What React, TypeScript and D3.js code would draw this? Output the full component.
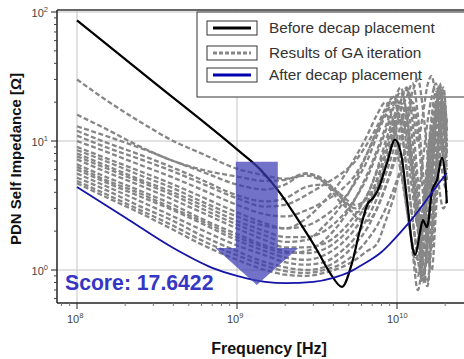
import React from 'react';
import * as d3 from 'd3';

const W = 464;
const H = 359;

// Frequency grid shared by the GA-iteration curves (Hz)
const FREQ_GRAY = [1e8, 1.5e8, 2.5e8, 4e8, 6e8, 1e9, 1.5e9, 2e9, 2.7e9, 3.5e9, 4.5e9, 5.5e9, 6.5e9, 7.5e9, 8.5e9, 9.5e9, 1.05e10, 1.15e10, 1.25e10, 1.35e10, 1.45e10, 1.55e10, 1.65e10, 1.75e10, 1.85e10, 1.95e10, 2.05e10];

const GRAY_A = [30, 21, 14, 10, 8, 6.1, 5.4, 5.1, 5.4, 4.8, 3.8, 3.2, 3.6, 5, 8, 13, 20, 26, 18, 10, 16, 27, 32, 20, 12, 9, 8];
const GRAY_B = [16, 12.5, 9, 7, 6, 5.3, 4.9, 5.0, 5.6, 4.8, 3.3, 2.8, 3.2, 4.5, 7, 11, 16, 12, 6, 4, 7, 14, 22, 28, 18, 9, 6];
const GRAY_C = [13, 11, 8.8, 7, 5.8, 4.6, 4.2, 4.6, 5.6, 5.0, 3.6, 2.6, 2.4, 3.0, 4.5, 7, 11, 16, 24, 30, 18, 8, 4, 6, 12, 8, 5];
const GRAY_D = [12, 9.8, 7.8, 6.2, 5, 3.8, 3.4, 3.6, 4.4, 4.6, 3.6, 3.0, 3.8, 6, 10, 15, 20, 14, 7, 3, 2, 4, 9, 16, 24, 16, 8];
const GRAY_E = [11, 9, 7.2, 5.8, 4.7, 3.6, 3.1, 3.2, 3.8, 4.6, 5.6, 7, 9.5, 13, 18, 22, 14, 6, 2.5, 1.2, 0.8, 1.6, 5, 11, 8, 5, 4];
const GRAY_F = [10, 8.3, 6.5, 5.2, 4.2, 3.2, 2.7, 2.6, 2.9, 3.4, 4.2, 5.5, 8, 12, 17, 22, 18, 9, 4, 2.2, 3, 7, 14, 20, 12, 7, 5];
const GRAY_G = [9, 7.4, 5.8, 4.6, 3.7, 2.8, 2.3, 2.1, 2.2, 2.6, 3.4, 4.8, 7, 11, 16, 20, 14, 6, 2.5, 1.5, 2.2, 5, 11, 18, 25, 14, 7];
const GRAY_H = [8, 6.5, 5.0, 4.0, 3.2, 2.4, 2.0, 1.8, 1.8, 2.0, 2.6, 3.6, 5.2, 8, 12, 18, 24, 16, 7, 2.5, 1.2, 2.5, 7, 15, 22, 12, 6];
const GRAY_I = [7.6, 6.2, 4.8, 3.8, 3.0, 2.25, 1.85, 1.65, 1.7, 2.2, 3.2, 5, 8, 12, 16, 11, 6, 3, 1.5, 0.9, 2, 6, 13, 8, 4, 3, 3.5];
const GRAY_J = [7.2, 5.8, 4.5, 3.5, 2.8, 2.1, 1.7, 1.5, 1.5, 1.6, 2.0, 2.7, 3.8, 5.8, 9, 14, 20, 25, 14, 5, 1.8, 1.1, 3, 9, 18, 26, 12];
const GRAY_K = [6.6, 5.3, 4.1, 3.2, 2.5, 1.9, 1.55, 1.4, 1.35, 1.45, 1.8, 2.4, 3.3, 5, 8, 12, 17, 22, 28, 16, 6, 2, 1.5, 4, 11, 20, 9];
const GRAY_L = [6.0, 4.8, 3.7, 2.9, 2.3, 1.7, 1.4, 1.25, 1.2, 1.3, 1.6, 2.1, 2.9, 4.3, 6.5, 10, 15, 11, 5, 2, 0.9, 1.6, 5, 12, 20, 14, 8];
const GRAY_M = [5.6, 4.5, 3.4, 2.6, 2.05, 1.55, 1.3, 1.15, 1.1, 1.15, 1.4, 1.8, 2.5, 3.6, 5.5, 8.5, 13, 18, 10, 3.5, 1.2, 0.8, 2, 6, 14, 24, 12];
const GRAY_N = [5.2, 4.2, 3.1, 2.4, 1.85, 1.4, 1.15, 1.05, 1.0, 1.05, 1.25, 1.6, 2.1, 3.0, 4.4, 6.5, 9.5, 14, 20, 12, 4, 1.4, 1.0, 2.8, 8, 16, 10];
const GRAY_O = [4.9, 3.9, 2.9, 2.2, 1.7, 1.3, 1.08, 0.98, 0.95, 1.0, 1.12, 1.35, 1.7, 2.2, 3.0, 4.2, 6, 9, 6, 2.4, 1.0, 0.75, 1.8, 5, 12, 20, 14];
const GRAY_P = [4.7, 3.7, 2.75, 2.05, 1.58, 1.2, 1.0, 0.92, 0.9, 0.95, 1.05, 1.2, 1.4, 1.6, 2.4, 3.6, 5.5, 3.5, 1.4, 0.7, 1.3, 4, 10, 18, 28, 16, 9];
const GRAY_Q = [8.5, 7, 5.4, 4.3, 3.4, 2.6, 2.2, 2.1, 2.5, 3.4, 5, 7.5, 11, 16, 20, 14, 7, 3, 1.6, 1.2, 2.5, 7, 16, 24, 14, 7, 5];
const GRAY_R = [6.3, 5.0, 3.9, 3.0, 2.4, 1.8, 1.5, 1.35, 1.4, 1.7, 2.4, 3.6, 5.5, 8.5, 13, 19, 26, 16, 6, 2.2, 0.8, 1.8, 6, 14, 26, 18, 10];

const GRAY_SERIES = [GRAY_A, GRAY_B, GRAY_C, GRAY_D, GRAY_E, GRAY_F, GRAY_G, GRAY_H, GRAY_I, GRAY_J, GRAY_K, GRAY_L, GRAY_M, GRAY_N, GRAY_O, GRAY_P, GRAY_Q, GRAY_R];

// Before decap placement
const FREQ_BEFORE = [1e8, 3e8, 1e9, 1.4e9, 1.86e9, 2.48e9, 3.16e9, 3.81e9, 4.53e9, 5.23e9, 5.87e9, 6.59e9, 7.08e9, 7.6e9, 8.66e9, 9.71e9, 1.07e10, 1.155e10, 1.26e10, 1.3e10, 1.39e10, 1.45e10, 1.54e10, 1.66e10, 1.78e10, 1.91e10, 2.0e10, 2.05e10];
const Z_BEFORE = [86, 28.7, 8.6, 6.0, 3.95, 2.31, 1.43, 0.95, 0.74, 1.13, 2.04, 3.3, 3.6, 4.17, 6.75, 10.2, 7.5, 3.49, 1.43, 1.31, 1.94, 2.44, 2.15, 4.17, 4.99, 7.4, 5.26, 3.3];

// After decap placement
const FREQ_AFTER = [1e8, 2e8, 4e8, 7e8, 1e9, 1.5e9, 2e9, 3e9, 4e9, 5e9, 6e9, 7e9, 8e9, 9e9, 1e10, 1.2e10, 1.45e10, 1.75e10, 2.05e10];
const Z_AFTER = [4.4, 2.55, 1.48, 1.04, 0.9, 0.81, 0.79, 0.81, 0.87, 0.96, 1.09, 1.22, 1.38, 1.59, 1.83, 2.36, 3.19, 4.4, 5.65];

const X_TICKS = [1e8, 1e9, 1e10];
const X_TICK_EXP = ['8', '9', '10'];
const Y_TICKS = [1, 10, 100];
const Y_TICK_EXP = ['0', '1', '2'];

const LEGEND_LABELS = ['Before decap placement', 'Results of GA iteration', 'After decap placement'];
const SCORE_LABEL = 'Score: 17.6422';
const X_LABEL = 'Frequency [Hz]';
const Y_LABEL = 'PDN Self Impedance [\u03A9]';

// Arrow annotation in data space
const ARROW_FREQ = 1.33e9;
const ARROW_TOP = 6.9;
const ARROW_NECK = 1.48;
const ARROW_TIP = 0.765;

export default function App() {
  const left = 57;
  const top = 10;
  const bottom = 303;

  const x = d3.scaleLog().domain([1e8, 1e10]).range([77, 397]);
  const y = d3.scaleLog().domain([1, 100]).range([270, 12]);

  const mkLine = (fs: number[], vs: number[]) =>
    d3
      .line<number>()
      .x((_, i) => x(fs[i]))
      .y((v) => y(v))
      .curve(d3.curveMonotoneX)(vs) || '';

  const yMinor: number[] = [];
  for (let d = -1; d <= 2; d++) {
    for (let k = 2; k <= 9; k++) {
      const v = k * Math.pow(10, d);
      const py = y(v);
      if (py <= bottom && py >= top) yMinor.push(v);
    }
  }
  const xMinor: number[] = [];
  for (let d = 7; d <= 10; d++) {
    for (let k = 2; k <= 9; k++) {
      const v = k * Math.pow(10, d);
      const px = x(v);
      if (px >= left && px <= W) xMinor.push(v);
    }
  }

  const ax = x(ARROW_FREQ);
  const aTop = y(ARROW_TOP);
  const aNeck = y(ARROW_NECK);
  const aTip = y(ARROW_TIP);
  const shaftHalf = 21;
  const headHalf = 41.5;

  const legendX = 197;
  const legendY = 12;
  const rowY = [28, 53, 75];

  const font = "'Liberation Sans', Arial, sans-serif";

  return (
    <svg
      width={W}
      height={H}
      viewBox={`0 0 ${W} ${H}`}
      style={{ position: 'absolute', left: 0, top: 0, background: '#fff' }}
    >
      <rect x={0} y={0} width={W} height={H} fill="#fff" />
      {X_TICKS.map((t) => (
        <line key={'gx' + t} x1={x(t)} x2={x(t)} y1={top} y2={bottom} stroke="#c4c4c4" strokeWidth={1} />
      ))}
      {Y_TICKS.map((t) => (
        <line key={'gy' + t} x1={left} x2={W} y1={y(t)} y2={y(t)} stroke="#c4c4c4" strokeWidth={1} />
      ))}

      <rect x={legendX} y={legendY} width={300} height={85} fill="#fff" stroke="#333" strokeWidth={1} />
      {LEGEND_LABELS.map((lab, i) => (
        <g key={lab}>
          <rect x={207} y={rowY[i] - 7} width={50} height={14} fill="#fff" stroke="#333" strokeWidth={1} />
          {i === 0 && <line x1={213} x2={251} y1={rowY[i]} y2={rowY[i]} stroke="#000" strokeWidth={3} />}
          {i === 1 && (
            <line x1={213} x2={251} y1={rowY[i]} y2={rowY[i]} stroke="#888" strokeWidth={3} strokeDasharray="4,2" />
          )}
          {i === 2 && <line x1={213} x2={251} y1={rowY[i]} y2={rowY[i]} stroke="#0000b0" strokeWidth={3} />}
          <text x={269} y={rowY[i] + 5} fontFamily={font} fontSize={15.3} fill="#333">
            {lab}
          </text>
        </g>
      ))}

      {GRAY_SERIES.map((s, i) => (
        <path
          key={'g' + i}
          d={mkLine(FREQ_GRAY, s)}
          fill="none"
          stroke="#868686"
          strokeWidth={2.3}
          strokeDasharray="5,2.5"
        />
      ))}

      <path d={mkLine(FREQ_BEFORE, Z_BEFORE)} fill="none" stroke="#000" strokeWidth={2.2} />
      <path d={mkLine(FREQ_AFTER, Z_AFTER)} fill="none" stroke="#1414aa" strokeWidth={1.8} />

      <path
        d={`M${ax - shaftHalf},${aTop} L${ax + shaftHalf},${aTop} L${ax + shaftHalf},${aNeck} L${ax + headHalf},${aNeck} L${ax},${aTip} L${ax - headHalf},${aNeck} L${ax - shaftHalf},${aNeck} Z`}
        fill="#3c3cb4"
        opacity={0.72}
      />

      <text x={x(1e8) - 12} y={y(1) + 20} fontFamily={font} fontWeight="bold" fontSize={21.2} fill="#3636c4">
        {SCORE_LABEL}
      </text>

      <line x1={left} x2={W} y1={top} y2={top} stroke="#666" strokeWidth={2} />
      <line x1={left} x2={left} y1={top} y2={bottom} stroke="#222" strokeWidth={1.5} />
      <line x1={left} x2={W} y1={bottom} y2={bottom} stroke="#222" strokeWidth={1.5} />

      {yMinor.map((v) => (
        <line key={'ym' + v} x1={left - 3} x2={left} y1={y(v)} y2={y(v)} stroke="#444" strokeWidth={1} />
      ))}
      {Y_TICKS.map((t, i) => (
        <g key={'yt' + t}>
          <line x1={left - 6} x2={left} y1={y(t)} y2={y(t)} stroke="#222" strokeWidth={1} />
          <text x={48} y={y(t) + 5} textAnchor="end" fontFamily={font} fontSize={11} fill="#444">
            10
            <tspan dy={-5} fontSize={7.5}>
              {Y_TICK_EXP[i]}
            </tspan>
          </text>
        </g>
      ))}
      {xMinor.map((v) => (
        <line key={'xm' + v} x1={x(v)} x2={x(v)} y1={bottom} y2={bottom + 3} stroke="#777" strokeWidth={1} />
      ))}
      {X_TICKS.map((t, i) => (
        <g key={'xt' + t}>
          <line x1={x(t)} x2={x(t)} y1={bottom} y2={bottom + 6} stroke="#222" strokeWidth={1} />
          <text x={x(t) - 10} y={323} fontFamily={font} fontSize={11} fill="#444">
            10
            <tspan dy={-5} fontSize={7.5}>
              {X_TICK_EXP[i]}
            </tspan>
          </text>
        </g>
      ))}

      <text x={269} y={354} textAnchor="middle" fontFamily={font} fontWeight="bold" fontSize={16} fill="#111">
        {X_LABEL}
      </text>
      <text
        transform={`translate(21,159) rotate(-90)`}
        textAnchor="middle"
        fontFamily={font}
        fontWeight="bold"
        fontSize={15}
        fill="#111"
      >
        {Y_LABEL}
      </text>
    </svg>
  );
}
